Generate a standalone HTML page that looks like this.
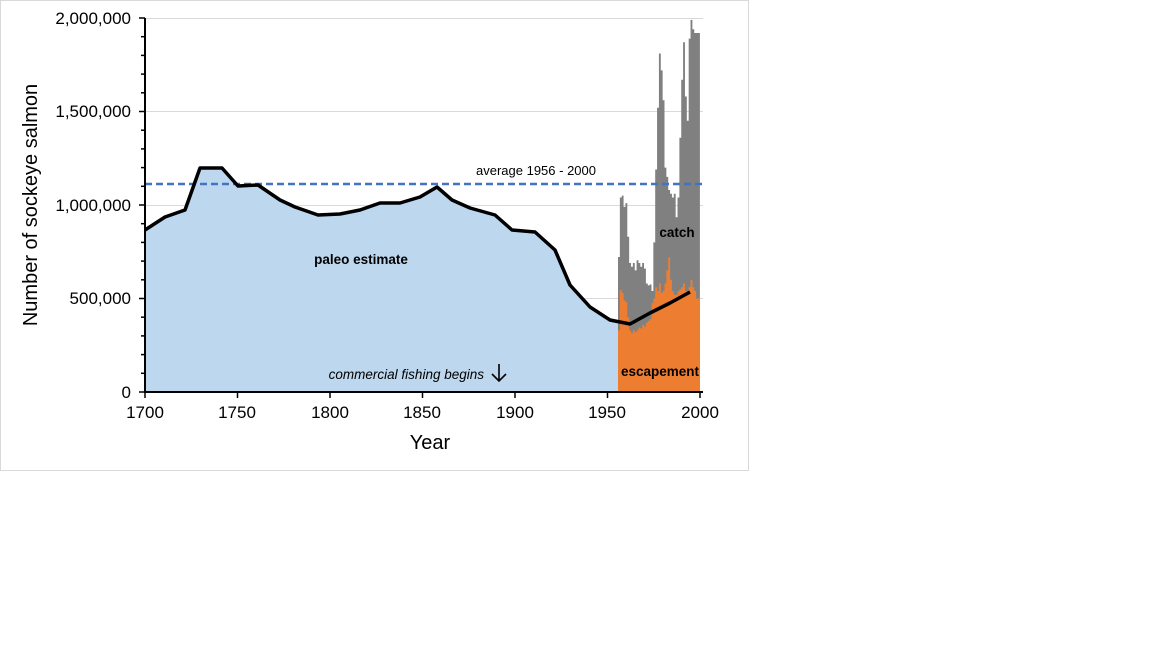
<!DOCTYPE html>
<html><head><meta charset="utf-8"><style>
body{margin:0;background:#fff;width:1152px;height:648px;overflow:hidden}
svg{position:absolute;left:0;top:0}
text{font-family:"Liberation Sans",sans-serif}
</style></head><body>
<svg width="1152" height="648" xmlns="http://www.w3.org/2000/svg">
<rect x="0.5" y="0.5" width="748" height="470" fill="#fff" stroke="#d9d9d9"/>
<g stroke="#d9d9d9" stroke-width="1">
<line x1="145" y1="18.5" x2="703" y2="18.5"/>
<line x1="145" y1="111.5" x2="703" y2="111.5"/>
<line x1="145" y1="205.5" x2="703" y2="205.5"/>
<line x1="145" y1="298.5" x2="703" y2="298.5"/>
</g>
<path fill="#bdd7ee" d="M145,392 L145,230 L165,217 L185,210 L200,168 L222,168 L238,186 L258,185 L280,200 L295,207 L318,215 L340,214 L360,210 L380,203 L400,203 L420,197 L437,187 L452,200 L470,208 L495,215 L512,230 L535,232 L555,250 L570,285 L590,307 L610,320 L618,321 L618,392 Z"/>
<path fill="#808080" d="M618,392 V257 H619.86 V197.5 H621.72 V195.6 H623.58 V206.9 H625.44 V203.1 H627.3 V236.8 H629.16 V263 H631.02 V266.7 H632.88 V263 H634.74 V270.4 H636.6 V260.2 H638.46 V263 H640.32 V266.7 H642.18 V263 H644.04 V268.6 H645.9 V283.5 H647.76 V285.4 H649.62 V284.5 H651.48 V291 H653.34 V242.4 H655.2 V169.5 H657.06 V107.8 H658.92 V53.5 H660.78 V70.4 H662.64 V100.3 H664.5 V167.6 H666.36 V176.9 H668.22 V190 H670.08 V193.8 H671.94 V197.5 H673.8 V193.8 H675.66 V217.2 H677.52 V197.5 H679.38 V137.7 H681.24 V79.7 H683.1 V42.3 H684.96 V96.5 H686.82 V120.8 H688.68 V38.6 H690.54 V19.9 H692.4 V29.2 H694.26 V33 H699.9 V392 Z"/>
<path fill="#ed7d31" d="M618,392 V330.3 H619.86 V290.1 H621.72 V292.9 H623.58 V300.4 H625.44 V302.2 H627.3 V317.2 H629.16 V330.3 H631.02 V333.1 H632.88 V330.3 H634.74 V332.2 H636.6 V330.3 H638.46 V327.5 H640.32 V328.4 H642.18 V324.7 H644.04 V326.5 H645.9 V322.8 H647.76 V320.9 H649.62 V319.1 H651.48 V303.2 H653.34 V298.5 H655.2 V287.3 H657.06 V291 H658.92 V283.5 H660.78 V292.9 H662.64 V291 H664.5 V283.5 H666.36 V270.4 H668.22 V257.4 H670.08 V279.8 H671.94 V291 H673.8 V294.8 H677.52 V291 H679.38 V289.1 H681.24 V287.3 H683.1 V283.5 H684.96 V291 H686.82 V294.8 H688.68 V287.3 H690.54 V279.8 H692.4 V287.3 H694.26 V291 H696.12 V298.5 H699.9 V392 Z"/>
<line x1="145" y1="184" x2="703" y2="184" stroke="#4472c4" stroke-width="2.5" stroke-dasharray="7,4"/>
<polyline fill="none" stroke="#000" stroke-width="3.5" stroke-linejoin="round" points="145,230 165,217 185,210 200,168 222,168 238,186 258,185 280,200 295,207 318,215 340,214 360,210 380,203 400,203 420,197 437,187 452,200 470,208 495,215 512,230 535,232 555,250 570,285 590,307 610,320 630,324 650,313 670,303 690,292"/>
<g stroke="#000" stroke-width="1.5">
<line x1="139" y1="392" x2="145" y2="392"/><line x1="141" y1="373.3" x2="145" y2="373.3"/><line x1="141" y1="354.6" x2="145" y2="354.6"/><line x1="141" y1="335.9" x2="145" y2="335.9"/><line x1="141" y1="317.2" x2="145" y2="317.2"/>
<line x1="139" y1="298.5" x2="145" y2="298.5"/><line x1="141" y1="279.8" x2="145" y2="279.8"/><line x1="141" y1="261.1" x2="145" y2="261.1"/><line x1="141" y1="242.4" x2="145" y2="242.4"/><line x1="141" y1="223.7" x2="145" y2="223.7"/>
<line x1="139" y1="205" x2="145" y2="205"/><line x1="141" y1="186.3" x2="145" y2="186.3"/><line x1="141" y1="167.6" x2="145" y2="167.6"/><line x1="141" y1="148.9" x2="145" y2="148.9"/><line x1="141" y1="130.2" x2="145" y2="130.2"/>
<line x1="139" y1="111.5" x2="145" y2="111.5"/><line x1="141" y1="92.8" x2="145" y2="92.8"/><line x1="141" y1="74.1" x2="145" y2="74.1"/><line x1="141" y1="55.4" x2="145" y2="55.4"/><line x1="141" y1="36.7" x2="145" y2="36.7"/>
<line x1="139" y1="18" x2="145" y2="18"/>
<line x1="145" y1="392" x2="145" y2="398"/><line x1="237.5" y1="392" x2="237.5" y2="398"/><line x1="330" y1="392" x2="330" y2="398"/><line x1="422.5" y1="392" x2="422.5" y2="398"/><line x1="515" y1="392" x2="515" y2="398"/><line x1="607.5" y1="392" x2="607.5" y2="398"/><line x1="700" y1="392" x2="700" y2="398"/>
</g>
<line x1="145" y1="18" x2="145" y2="393" stroke="#000" stroke-width="2"/>
<line x1="144" y1="392" x2="703" y2="392" stroke="#000" stroke-width="2"/>
<g font-size="17" fill="#000" text-anchor="end">
<text x="131" y="24">2,000,000</text>
<text x="131" y="117">1,500,000</text>
<text x="131" y="211">1,000,000</text>
<text x="131" y="304">500,000</text>
<text x="131" y="398">0</text>
</g>
<g font-size="17" fill="#000" text-anchor="middle">
<text x="145" y="418">1700</text>
<text x="237" y="418">1750</text>
<text x="330" y="418">1800</text>
<text x="422" y="418">1850</text>
<text x="515" y="418">1900</text>
<text x="607" y="418">1950</text>
<text x="700" y="418">2000</text>
<text x="430" y="449" font-size="20">Year</text>
<text transform="translate(37,205) rotate(-90)" font-size="20">Number of sockeye salmon</text>
</g>
<text x="536" y="175" font-size="13" text-anchor="middle" fill="#000">average 1956 - 2000</text>
<text x="361" y="264" font-size="13.5" font-weight="bold" text-anchor="middle" fill="#000">paleo estimate</text>
<text x="677" y="237" font-size="13.5" font-weight="bold" text-anchor="middle" fill="#000">catch</text>
<text x="660" y="376" font-size="13.5" font-weight="bold" text-anchor="middle" fill="#000">escapement</text>
<text x="484" y="379" font-size="13.5" font-style="italic" text-anchor="end" fill="#000">commercial fishing begins</text>
<path d="M499 364 L499 381 M492 374 L499 381 L506 374" stroke="#000" stroke-width="1.6" fill="none"/>
</svg>
</body></html>
